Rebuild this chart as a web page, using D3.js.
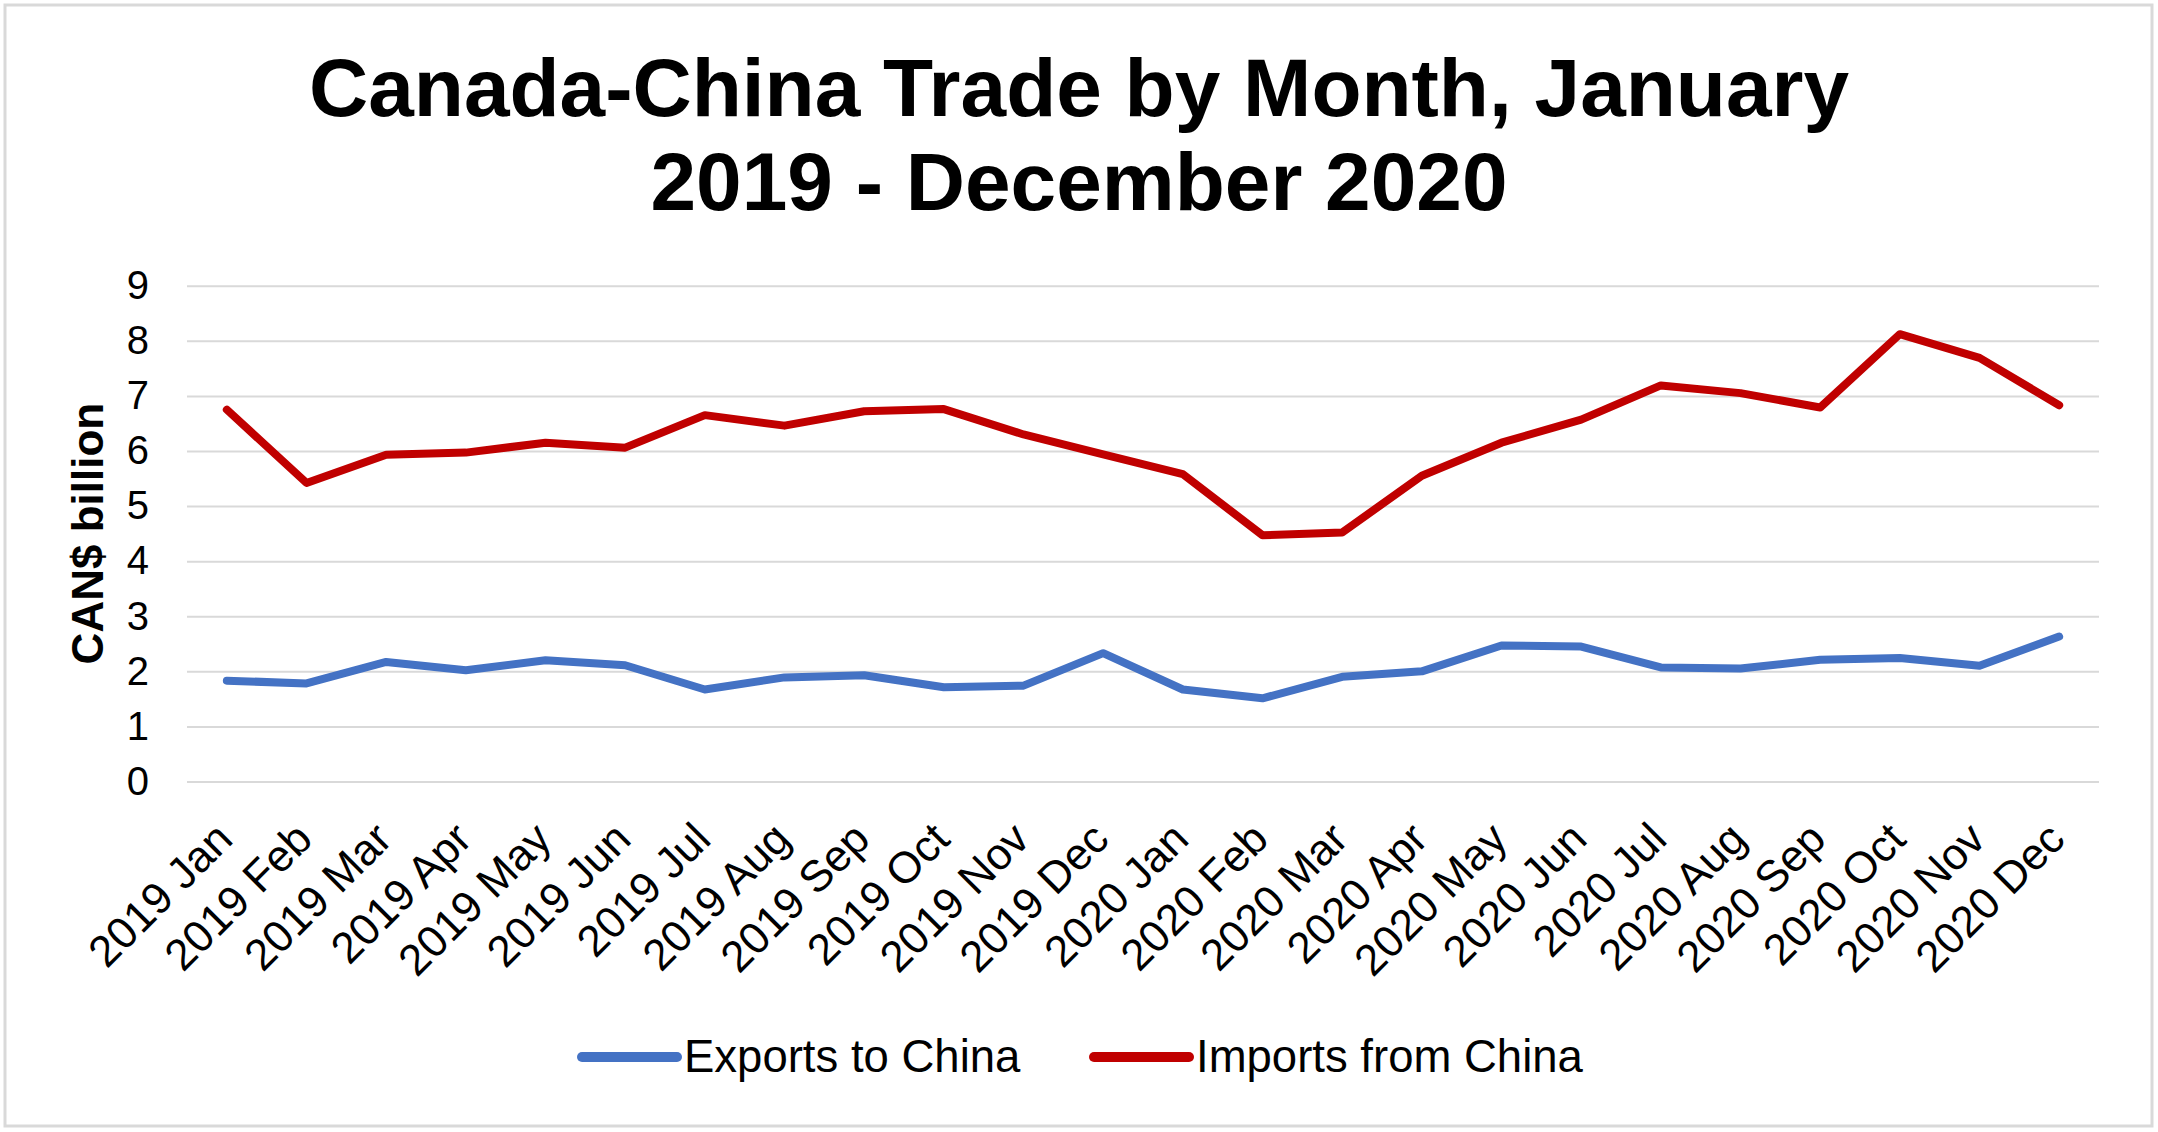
<!DOCTYPE html>
<html>
<head>
<meta charset="utf-8">
<script src="https://cdn.jsdelivr.net/npm/d3@7"></script>
<style>
  body { margin: 0; background: #fff; }
  svg { display: block; font-family: 'Liberation Sans', Arial, sans-serif; }
</style>
</head>
<body>
<svg id="chart"></svg>
<script>
const WIDTH = 2158;
const HEIGHT = 1132;

// Month labels along the x axis.
const months = [
  '2019 Jan', '2019 Feb', '2019 Mar', '2019 Apr', '2019 May', '2019 Jun',
  '2019 Jul', '2019 Aug', '2019 Sep', '2019 Oct', '2019 Nov', '2019 Dec',
  '2020 Jan', '2020 Feb', '2020 Mar', '2020 Apr', '2020 May', '2020 Jun',
  '2020 Jul', '2020 Aug', '2020 Sep', '2020 Oct', '2020 Nov', '2020 Dec'
];

// CAN$ billion.
const exportsToChina = [
  1.83, 1.78, 2.17, 2.02, 2.20, 2.11, 1.67, 1.89, 1.93, 1.71, 1.74, 2.33,
  1.67, 1.51, 1.90, 2.00, 2.47, 2.45, 2.07, 2.05, 2.21, 2.24, 2.10, 2.63
];
const importsFromChina = [
  6.75, 5.42, 5.93, 5.97, 6.15, 6.06, 6.65, 6.46, 6.72, 6.76, 6.30, 5.94,
  5.58, 4.47, 4.52, 5.55, 6.15, 6.57, 7.19, 7.05, 6.79, 8.12, 7.69, 6.83
];

const yTicks = [0, 1, 2, 3, 4, 5, 6, 7, 8, 9];

const seriesList = [
  {name: 'Exports to China', values: exportsToChina, color: '#4472C4'},
  {name: 'Imports from China', values: importsFromChina, color: '#C00000'}
];

const plot = {left: 187, right: 2099, top: 285.7, bottom: 781.5};

const svg = d3
  .select('#chart')
  .attr('width', WIDTH)
  .attr('height', HEIGHT)
  .attr('viewBox', `0 0 ${WIDTH} ${HEIGHT}`);

// Outer frame of the chart area.
svg
  .append('rect')
  .attr('x', 5)
  .attr('y', 5)
  .attr('width', WIDTH - 11)
  .attr('height', HEIGHT - 11)
  .attr('fill', '#fff')
  .attr('stroke', '#d9d9d9')
  .attr('stroke-width', 3);

// Title, two lines.
const title = svg
  .append('text')
  .attr('text-anchor', 'middle')
  .attr('font-weight', 'bold')
  .attr('font-size', 82)
  .attr('fill', '#000');
title.append('tspan').attr('x', WIDTH / 2).attr('y', 116)
  .text('Canada-China Trade by Month, January');
title.append('tspan').attr('x', WIDTH / 2).attr('y', 210)
  .text('2019 - December 2020');

const x = d3
  .scaleBand()
  .domain(months)
  .range([plot.left, plot.right]);
const xMid = d => x(d) + x.bandwidth() / 2;

const y = d3
  .scaleLinear()
  .domain([0, 9])
  .range([plot.bottom, plot.top]);

// Horizontal gridlines and y tick labels via the axis generator.
const yAxis = svg
  .append('g')
  .attr('transform', `translate(${plot.left},0)`)
  .call(
    d3.axisLeft(y)
      .tickValues(yTicks)
      .tickSize(-(plot.right - plot.left))
      .tickPadding(38)
      .tickFormat(d3.format('d'))
  );
yAxis.select('.domain').remove();
yAxis.selectAll('.tick line')
  .attr('stroke', '#d9d9d9')
  .attr('stroke-width', 2);
yAxis.selectAll('.tick text')
  .attr('font-size', 40)
  .attr('font-family', "'Liberation Sans', Arial, sans-serif")
  .attr('fill', '#000');

// Y axis title.
svg
  .append('text')
  .attr('transform', `translate(103,${(plot.top + plot.bottom) / 2}) rotate(-90)`)
  .attr('text-anchor', 'middle')
  .attr('font-weight', 'bold')
  .attr('font-size', 44)
  .text('CAN$ billion');

// X axis labels, rotated 45 degrees.
const xAxis = svg
  .append('g')
  .attr('transform', `translate(0,${plot.bottom})`)
  .call(d3.axisBottom(x).tickSize(0).tickPadding(0));
xAxis.select('.domain').remove();
xAxis.selectAll('.tick text')
  .attr('font-size', 44)
  .attr('font-family', "'Liberation Sans', Arial, sans-serif")
  .attr('fill', '#000')
  .attr('text-anchor', 'end')
  .attr('dy', null)
  .attr('y', null)
  .attr('transform', 'translate(8,60) rotate(-45)');

// Series lines.
const line = d3
  .line()
  .x((d, i) => xMid(months[i]))
  .y(d => y(d));

svg
  .selectAll('path.series')
  .data(seriesList)
  .join('path')
  .attr('class', 'series')
  .attr('d', d => line(d.values))
  .attr('fill', 'none')
  .attr('stroke', d => d.color)
  .attr('stroke-width', 8)
  .attr('stroke-linejoin', 'round')
  .attr('stroke-linecap', 'round');

// Legend.
const legendX = [582, 1094];
const legend = svg
  .selectAll('g.legend')
  .data(seriesList)
  .join('g')
  .attr('class', 'legend')
  .attr('transform', (d, i) => `translate(${legendX[i]},1057)`);
legend
  .append('line')
  .attr('x1', 0)
  .attr('x2', 95)
  .attr('stroke', d => d.color)
  .attr('stroke-width', 10)
  .attr('stroke-linecap', 'round');
legend
  .append('text')
  .attr('x', 102)
  .attr('y', 15)
  .attr('font-size', 45.5)
  .attr('fill', '#000')
  .text(d => d.name);
</script>
</body>
</html>
